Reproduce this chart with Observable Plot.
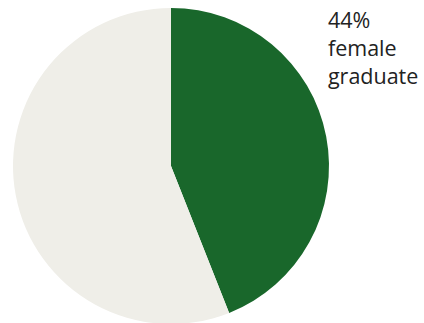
<!DOCTYPE html>
<html><head><meta charset="utf-8">
<script src="https://cdn.jsdelivr.net/npm/d3@7"></script>
<script src="https://cdn.jsdelivr.net/npm/@observablehq/plot@0.6"></script>
<style>body{margin:0;background:#fff}</style>
</head><body><div id="chart"></div>
<script>
const categories = ["female graduate", "other"];
const values = [44, 56];
const colors = ["#19672b", "#efeee8"];
const labelText = ["44%", "female", "graduate"];

const data = categories.map((c, i) => ({category: c, value: values[i]}));
const pie = d3.pie().sort(null).value(d => d.value)(data);

const pieMark = (index, scales, ch, dims) => {
  const cx = scales.x(0), cy = scales.y(0);
  const r = (scales.x(1) - scales.x(-1)) / 2;
  const arc = d3.arc().innerRadius(0).outerRadius(r);
  const g = d3.create("svg:g").attr("transform", `translate(${cx},${cy})`);
  g.selectAll("path").data(pie).join("path")
    .attr("d", arc)
    .attr("fill", (d, i) => colors[i]);
  return g.node();
};

const chart = Plot.plot({
  width: 424, height: 323,
  margin: 0,
  x: {domain: [-1, 1], range: [13, 329], axis: null},
  y: {domain: [-1, 1], range: [324, 8], axis: null},
  marks: [
    pieMark,
    Plot.text([labelText.join("\n")], {
      x: 0.99, y: 1.0, text: d => d,
      textAnchor: "start", lineAnchor: "top",
      fontSize: 21.5, lineHeight: 1.3, fill: "#222",
      fontFamily: "Open Sans"
    })
  ]
});
document.getElementById("chart").appendChild(chart);
</script></body></html>
